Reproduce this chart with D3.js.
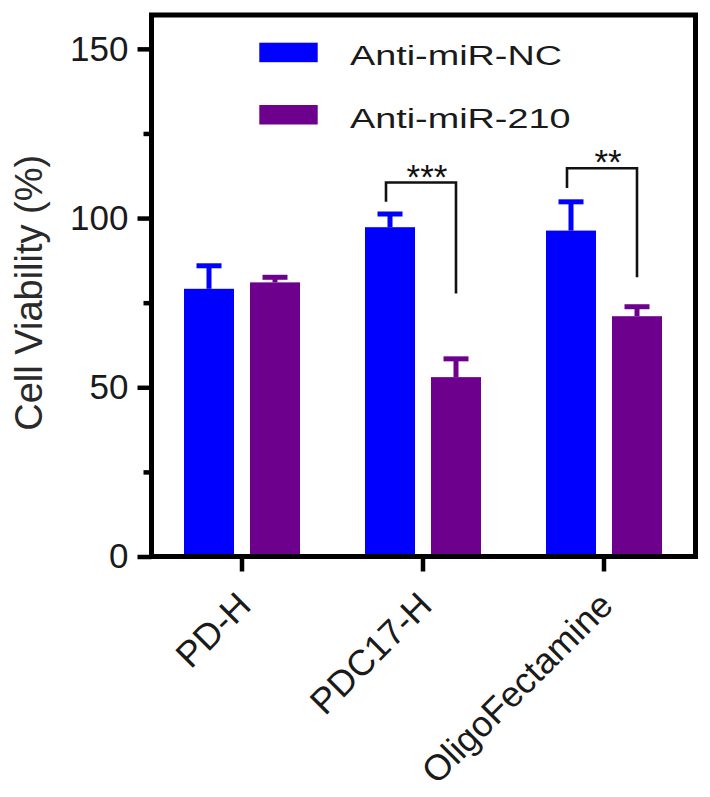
<!DOCTYPE html>
<html>
<head>
<meta charset="utf-8">
<script src="https://cdn.jsdelivr.net/npm/d3@7"></script>
<style>
  html, body { margin: 0; padding: 0; background: #fff; }
  svg { display: block; font-family: "Liberation Sans", Arial, Helvetica, sans-serif; }
</style>
</head>
<body>
<svg id="chart" width="710" height="797"></svg>
<script>
// ---- data ----
const categories = ["PD-H", "PDC17-H", "OligoFectamine"];
const seriesNames = ["Anti-miR-NC", "Anti-miR-210"];
const ncMeans = [79.1, 97.3, 96.3];
const ncErrors = [6.8, 3.9, 8.5];
const m210Means = [81.0, 53.0, 71.0];
const m210Errors = [1.5, 5.4, 2.8];
const seriesColors = ["#0000FF", "#6E008E"];
const yMajorTicks = [0, 50, 100, 150];
const yMinorTicks = [25, 75, 125];
const yTitle = "Cell Viability (%)";
// significance brackets
const sigCategories = ["PDC17-H", "OligoFectamine"];
const sigLabels = ["***", "**"];
const sigLeftBottom = [104.8, 108.9];
const sigTop = [110.5, 114.7];
const sigRightBottom = [77.7, 82.5];

// ---- layout ----
const svg = d3.select("#chart");
const frame = { left: 151.5, right: 695.5, top: 15, bottom: 556.5 };
const axisColor = "#000";
const textColor = "#1a1a1a";

const y = d3.scaleLinear().domain([0, 160]).range([frame.bottom, frame.top]);
const x0 = d3.scaleBand().domain(categories).range([frame.left, frame.left + 543]).paddingInner(0).paddingOuter(0);
const x1 = d3.scaleBand().domain(seriesNames)
  .range([32.5, x0.bandwidth() - 32.5]).paddingInner(0.2424).paddingOuter(0);

const rows = categories.map((c, i) => ({
  cat: c,
  vals: [
    { s: seriesNames[0], v: ncMeans[i], e: ncErrors[i], color: seriesColors[0] },
    { s: seriesNames[1], v: m210Means[i], e: m210Errors[i], color: seriesColors[1] }
  ]
}));

// bars
const g = svg.append("g");
const groups = g.selectAll("g.cat").data(rows).join("g")
  .attr("class", "cat")
  .attr("transform", d => `translate(${x0(d.cat)},0)`);

groups.selectAll("rect").data(d => d.vals).join("rect")
  .attr("x", d => x1(d.s))
  .attr("width", x1.bandwidth())
  .attr("y", d => y(d.v))
  .attr("height", d => y(0) - y(d.v))
  .attr("fill", d => d.color);

// error bars (upper only)
groups.selectAll("line.stem").data(d => d.vals).join("line")
  .attr("class", "stem")
  .attr("x1", d => x1(d.s) + x1.bandwidth() / 2)
  .attr("x2", d => x1(d.s) + x1.bandwidth() / 2)
  .attr("y1", d => y(d.v))
  .attr("y2", d => y(d.v + d.e))
  .attr("stroke", d => d.color)
  .attr("stroke-width", 5);
groups.selectAll("line.cap").data(d => d.vals).join("line")
  .attr("class", "cap")
  .attr("x1", d => x1(d.s) + x1.bandwidth() / 2 - 12.5)
  .attr("x2", d => x1(d.s) + x1.bandwidth() / 2 + 12.5)
  .attr("y1", d => y(d.v + d.e))
  .attr("y2", d => y(d.v + d.e))
  .attr("stroke", d => d.color)
  .attr("stroke-width", 5);

// y axis (major)
const yAxis = svg.append("g")
  .attr("transform", `translate(${frame.left},0)`)
  .call(d3.axisLeft(y).tickValues(yMajorTicks).tickSize(14).tickSizeOuter(0).tickPadding(9));
yAxis.select(".domain").remove();
yAxis.selectAll(".tick line").attr("stroke", axisColor).attr("stroke-width", 4.5);
yAxis.selectAll(".tick text")
  .attr("fill", textColor)
  .style("font-size", "35px")
  .style("font-family", '"Liberation Sans", Arial, sans-serif');

// y axis minor ticks
const yMinor = svg.append("g")
  .attr("transform", `translate(${frame.left},0)`)
  .call(d3.axisLeft(y).tickValues(yMinorTicks).tickSize(8).tickSizeOuter(0).tickFormat(""));
yMinor.select(".domain").remove();
yMinor.selectAll(".tick line").attr("stroke", axisColor).attr("stroke-width", 4.5);

// x axis
const xAxis = svg.append("g")
  .attr("transform", `translate(0,${frame.bottom})`)
  .call(d3.axisBottom(x0).tickSize(15).tickSizeOuter(0));
xAxis.select(".domain").remove();
xAxis.selectAll(".tick line").attr("stroke", axisColor).attr("stroke-width", 4.5);
xAxis.selectAll(".tick text")
  .attr("fill", textColor)
  .attr("y", null).attr("dy", null)
  .attr("text-anchor", "end")
  .attr("transform", "translate(11,51) rotate(-45)")
  .style("font-size", "36px")
  .style("font-family", '"Liberation Sans", Arial, sans-serif');

// frame
svg.append("rect")
  .attr("x", frame.left).attr("y", frame.top)
  .attr("width", frame.right - frame.left)
  .attr("height", frame.bottom - frame.top)
  .attr("fill", "none").attr("stroke", axisColor).attr("stroke-width", 5);

// y title
svg.append("text")
  .attr("transform", `translate(42,${(frame.top + frame.bottom) / 2 + 7}) rotate(-90)`)
  .attr("text-anchor", "middle")
  .attr("fill", "#2a2a2a")
  .style("font-size", "38px")
  .text(yTitle);

// significance brackets
sigCategories.forEach((c, i) => {
  const base = x0(c);
  const xl = base + x1(seriesNames[0]) + x1.bandwidth() / 2 - 4;
  const xr = base + x1(seriesNames[1]) + x1.bandwidth() / 2;
  svg.append("path")
    .attr("d", `M${xl},${y(sigLeftBottom[i])} L${xl},${y(sigTop[i])} L${xr},${y(sigTop[i])} L${xr},${y(sigRightBottom[i])}`)
    .attr("fill", "none").attr("stroke", "#111").attr("stroke-width", 2.6);
  svg.append("text")
    .attr("x", base + x0.bandwidth() / 2 + 4)
    .attr("y", y(sigTop[i]) + 6)
    .attr("text-anchor", "middle")
    .attr("fill", "#111")
    .style("font-size", "35px")
    .text(sigLabels[i]);
});

// legend
const legend = svg.append("g");
const legendRows = [{ y: 42.7, ty: 65 }, { y: 105, ty: 127.5 }];
seriesNames.forEach((s, i) => {
  legend.append("rect")
    .attr("x", 259.3).attr("y", legendRows[i].y)
    .attr("width", 58.4).attr("height", 19.5)
    .attr("fill", seriesColors[i]);
  legend.append("text")
    .attr("transform", `translate(350,${legendRows[i].ty}) scale(1.35,1)`)
    .attr("fill", textColor)
    .style("font-size", "28px")
    .text(s);
});
</script>
</body>
</html>
